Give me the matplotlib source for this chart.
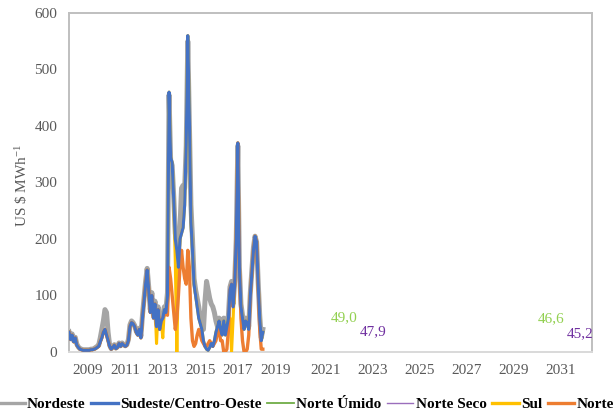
import numpy as np
import matplotlib
matplotlib.use("Agg")
import matplotlib.pyplot as plt
from matplotlib.lines import Line2D

# Monthly spot prices, Jan 2008 - May 2018 (US$/MWh)
start_year = 2008
nordeste = [
    36, 24, 32, 20, 26, 14, 9, 6, 5, 4, 4, 4,
    4, 4, 5, 5, 6, 8, 10, 12, 25, 40, 55, 75,
    70, 35, 12, 6, 9, 13, 7, 9, 16, 11, 16, 13,
    11, 13, 22, 48, 55, 52, 47, 37, 32, 42, 28, 65,
    95, 125, 148, 115, 75, 105, 65, 90, 50, 80, 45, 60,
    65, 80, 75, 105, 455, 340, 330, 275, 210, 190, 170, 220,
    290, 295, 290, 365, 550, 405, 260, 200, 130, 110, 95, 80,
    60, 50, 40, 90, 125, 110, 95, 85, 80, 70, 55, 45,
    60, 45, 35, 60, 35, 50, 65, 115, 125, 85, 125, 200,
    365, 150, 85, 65, 45, 60, 55, 45, 105, 145, 185, 205,
    195, 125, 65, 25, 40,
]
sudeste = [
    35, 22, 30, 18, 25, 12, 8, 5, 4, 3, 3, 3,
    3, 3, 4, 4, 5, 6, 8, 10, 18, 25, 35, 40,
    30, 20, 10, 5, 8, 12, 6, 8, 15, 10, 15, 12,
    10, 12, 20, 45, 52, 50, 45, 35, 30, 40, 25, 60,
    90, 120, 145, 110, 70, 100, 60, 85, 45, 75, 40, 55,
    60, 75, 70, 100, 460, 345, 335, 270, 200, 180, 150, 200,
    210, 220, 260, 370, 560, 415, 230, 180, 120, 100, 80, 60,
    50, 40, 20, 10, 5, 3, 8, 15, 10, 20, 35, 45,
    55, 40, 30, 55, 30, 45, 60, 110, 120, 80, 120, 200,
    370, 150, 80, 60, 40, 55, 50, 40, 100, 140, 180, 205,
    195, 120, 60, 20, 35,
]
sul = [
    35, 22, 30, 18, 25, 12, 8, 5, 4, 3, 3, 3,
    3, 3, 4, 4, 5, 6, 8, 10, 18, 25, 35, 40,
    30, 20, 10, 5, 8, 12, 6, 8, 15, 10, 15, 12,
    10, 12, 20, 45, 52, 50, 45, 35, 30, 40, 25, 60,
    90, 120, 145, 110, 70, 100, 60, 85, 15, 75, 40, 55,
    25, 75, 70, 100, 460, 345, 335, 270, 160, 0, 150, 200,
    210, 220, 260, 370, 560, 415, 230, 180, 120, 100, 80, 60,
    50, 40, 20, 10, 5, 3, 8, 15, 10, 20, 35, 45,
    55, 40, 30, 55, 30, 45, 60, 60, 0, 60, 120, 200,
    370, 150, 80, 60, 40, 55, 50, 40, 100, 140, 180, 205,
    195, 120, 60, 20, 35,
]
norte = [
    35, 22, 30, 18, 25, 12, 8, 5, 4, 3, 3, 3,
    3, 3, 4, 4, 5, 6, 8, 10, 18, 25, 35, 40,
    30, 20, 10, 5, 8, 12, 6, 8, 15, 10, 15, 12,
    10, 12, 20, 45, 52, 50, 45, 35, 30, 40, 25, 60,
    90, 120, 145, 110, 70, 100, 60, 85, 45, 75, 40, 55,
    60, 65, 70, 65, 150, 130, 100, 70, 40, 60, 100, 150,
    180, 150, 130, 120, 180, 150, 60, 20, 10, 15, 30, 40,
    30, 20, 15, 10, 10, 15, 20, 15, 10, 15, 20, 35,
    40, 20, 20, 0, 0, 5, 40, 110, 120, 80, 120, 200,
    370, 150, 60, 20, 0, 0, 5, 30, 100, 140, 180, 205,
    195, 120, 40, 5, 5,
]

# Projected averages for the two new northern submarkets
proj_years = [2022.4, 2031.2]
norte_umido = [49.0, 46.6]
norte_seco = [47.9, 45.2]

x_ticks = [2009, 2011, 2013, 2015, 2017, 2019, 2021, 2023, 2025, 2027, 2029, 2031]
y_ticks = [0, 100, 200, 300, 400, 500, 600]

C_GRAY = "#a5a5a5"
C_BLUE = "#4472c4"
C_GREEN = "#70ad47"
C_PURPLE = "#7030a0"
C_YELLOW = "#ffc000"
C_ORANGE = "#ed7d31"
C_LABEL_GREEN = "#92d050"
C_TEXT = "#595959"

SERIF = ["Liberation Serif", "DejaVu Serif"]
plt.rcParams["font.family"] = SERIF
plt.rcParams["mathtext.fontset"] = "custom"
plt.rcParams["mathtext.rm"] = "Liberation Serif"
plt.rcParams["mathtext.it"] = "Liberation Serif:italic"
plt.rcParams["mathtext.bf"] = "Liberation Serif:bold"

fig = plt.figure(figsize=(6.15, 4.13), dpi=100)
ax = fig.add_axes([69 / 615, 1 - 352 / 413, 523 / 615, 339 / 413])

# Monthly history is stretched less than the yearly projection period
yr_anchor = np.array([1990.0, 2019.0, 2021.0, 2050.0])
u_anchor = np.array([1990.0, 2019.0, 2021.69, 2021.69 + 29 * 1.2526])


def fwd(x):
    return np.interp(x, yr_anchor, u_anchor)


def inv(u):
    return np.interp(u, u_anchor, yr_anchor)


ax.set_xscale("function", functions=(fwd, inv))

t = start_year + np.arange(len(sudeste)) / 12.0

ax.plot(t, nordeste, color=C_GRAY, lw=3.6, solid_joinstyle="round", zorder=2)
ax.plot(t, sul, color=C_YELLOW, lw=2.2, zorder=3)
ax.plot(t, norte, color=C_ORANGE, lw=2.4, zorder=4)
ax.plot(t, sudeste, color=C_BLUE, lw=2.2, zorder=5)
ax.plot(proj_years, norte_umido, linestyle="none", color=C_GREEN)
ax.plot(proj_years, norte_seco, linestyle="none", color=C_PURPLE)

for xv, yv in zip(proj_years, norte_umido):
    ax.annotate(f"{yv:.1f}".replace(".", ","), xy=(xv, yv), xytext=(-1, 5),
                textcoords="offset points", ha="right", va="center",
                color=C_LABEL_GREEN, fontsize=11)
for xv, yv in zip(proj_years, norte_seco):
    ax.annotate(f"{yv:.1f}".replace(".", ","), xy=(xv, yv), xytext=(1, -5),
                textcoords="offset points", ha="left", va="center",
                color=C_PURPLE, fontsize=11)

ax.set_xlim(2008.0, 2032.33)
ax.set_ylim(0, 600)
ax.set_xticks(x_ticks)
ax.set_xticklabels([str(v) for v in x_ticks])
ax.set_yticks(y_ticks)
ax.tick_params(axis="both", length=0, pad=8.5, labelsize=11, labelcolor=C_TEXT)

for side in ("left", "top", "right"):
    ax.spines[side].set_color("#bfbfbf")
    ax.spines[side].set_linewidth(1.4)
ax.spines["bottom"].set_color("#d9d9d9")
ax.spines["bottom"].set_linewidth(1.4)

ax.set_ylabel(r"US \$ MWh$^{\mathregular{-1}}$", fontsize=11, color=C_TEXT)
ax.yaxis.set_label_coords(-0.075, 0.49)

handles = [
    Line2D([], [], color=C_GRAY, lw=2.4),
    Line2D([], [], color=C_BLUE, lw=2.4),
    Line2D([], [], color=C_GREEN, lw=1.3),
    Line2D([], [], color=C_PURPLE, lw=1.0, alpha=0.7),
    Line2D([], [], color=C_YELLOW, lw=2.4),
    Line2D([], [], color=C_ORANGE, lw=2.4),
]
labels = ["Nordeste", "Sudeste/Centro-Oeste", "Norte Úmido", "Norte Seco", "Sul", "Norte"]
fig.legend(handles, labels, loc="lower left", bbox_to_anchor=(-0.003, 0.004),
           ncol=6, frameon=False, handlelength=1.75, handletextpad=0.14,
           columnspacing=0.36, borderpad=0.0, borderaxespad=0.0,
           prop={"family": SERIF, "weight": "bold", "size": 11})

fig.savefig("out.png", dpi=100)
